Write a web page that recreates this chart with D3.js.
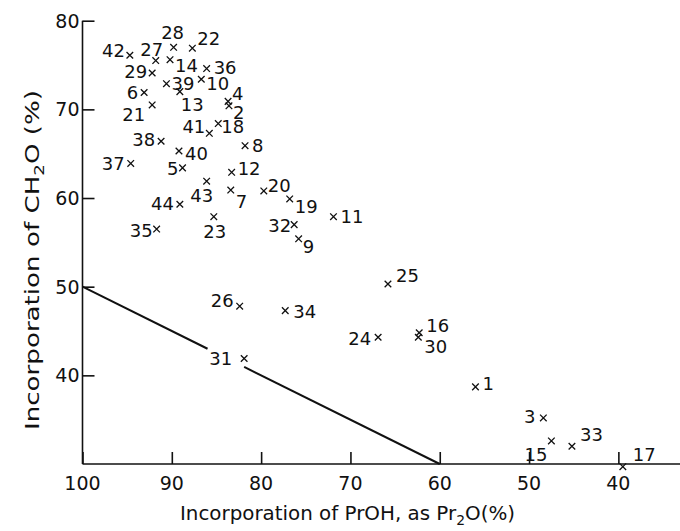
<!DOCTYPE html>
<html>
<head>
<meta charset="utf-8">
<script src="https://cdn.jsdelivr.net/npm/d3@7"></script>
<style>
  body { margin: 0; background: #fff; }
  text { font-family: "DejaVu Sans", sans-serif; fill: #111; }
</style>
</head>
<body>
<div class="canva"></div>
<script>
// experiment numbers and their incorporation values (%)
var runIds = [1, 2, 3, 4, 5, 6, 7, 8, 9, 10,
              11, 12, 13, 14, 15, 16, 17, 18, 19, 20,
              21, 22, 23, 24, 25, 26, 27, 28, 29, 30,
              31, 32, 33, 34, 35, 36, 37, 38, 39, 40,
              41, 42, 43, 44];
var prohValues = [56.0, 83.6, 48.4, 83.7, 88.8, 93.1, 83.4, 81.8, 75.8, 86.7,
                  71.9, 83.3, 89.1, 90.2, 47.5, 62.3, 39.5, 84.8, 76.8, 79.7,
                  92.2, 87.7, 85.3, 66.9, 65.8, 82.4, 91.8, 89.8, 92.2, 62.4,
                  81.9, 76.3, 45.2, 77.3, 91.7, 86.1, 94.6, 91.2, 90.6, 89.2,
                  85.8, 94.7, 86.1, 89.1];
var ch2oValues = [38.7, 70.4, 35.2, 70.9, 63.4, 71.9, 60.9, 65.9, 55.4, 73.4,
                  57.9, 62.9, 72.0, 75.6, 32.6, 44.8, 29.7, 68.4, 59.9, 60.8,
                  70.5, 76.9, 57.9, 44.3, 50.3, 47.8, 75.5, 77.0, 74.1, 44.3,
                  41.9, 57.0, 32.0, 47.3, 56.5, 74.6, 63.9, 66.4, 72.9, 65.3,
                  67.3, 76.1, 61.9, 59.3];
var xTicks = [100, 90, 80, 70, 60, 50, 40];
var yTicks = [40, 50, 60, 70, 80];
// reference line y = x/2, broken around label 31
var refLineA = [[100, 50], [86.0, 43.0]];
var refLineB = [[81.9, 40.95], [60, 30]];

// label placement: anchor, dx, dy (px from marker)
var labelPos = {
  1: ["start", 7, 3], 2: ["start", 4, 13], 3: ["end", -8, 5], 4: ["start", 4, -1],
  5: ["end", -4, 7], 6: ["end", -6, 6], 7: ["start", 5, 18], 8: ["start", 7, 6],
  9: ["start", 4, 14], 10: ["start", 5, 11], 11: ["start", 7, 6], 12: ["start", 6, 3],
  13: ["start", 1, 19], 14: ["start", 5, 12], 15: ["end", -4, 20], 16: ["start", 7, -1],
  17: ["start", 10, -6], 18: ["start", 3, 9], 19: ["start", 5, 14], 20: ["start", 4, 1],
  21: ["end", -7, 16], 22: ["start", 5, -3], 23: ["middle", 1, 21], 24: ["end", -7, 8],
  25: ["start", 8, -2], 26: ["end", -6, 1], 27: ["middle", -4, -5], 28: ["middle", -1, -8],
  29: ["end", -5, 5], 30: ["start", 6, 16], 31: ["end", -12, 7], 32: ["end", -3, 7],
  33: ["start", 8, -5], 34: ["start", 8, 7], 35: ["end", -4, 8], 36: ["start", 7, 5],
  37: ["end", -6, 7], 38: ["end", -6, 5], 39: ["start", 5, 6], 40: ["start", 6, 9],
  41: ["end", -4, 0], 42: ["end", -5, 2], 43: ["middle", -5, 21], 44: ["end", -6, 6]
};

var points = runIds.map(function(id, i) {
  return {id: id, x: prohValues[i], y: ch2oValues[i]};
});

const width = 680, height = 531;
const svg = d3.select(".canva").append("svg")
            .attr("width", width)
            .attr("height", height);

var x = d3.scaleLinear()
          .domain([100, 33.1])
          .range([82.5, 680]);
var y = d3.scaleLinear()
          .domain([30, 80])
          .range([464, 20.7]);

// axes (ticks point inward)
var xAxis = d3.axisTop(x)
              .tickValues(xTicks)
              .tickSize(12)
              .tickFormat("");
var yAxis = d3.axisRight(y)
              .tickValues(yTicks)
              .tickSize(12)
              .tickFormat("");

var gx = svg.append("g")
            .attr("transform", "translate(0," + y(30) + ")")
            .call(xAxis);
var gy = svg.append("g")
            .attr("transform", "translate(" + x(100) + ",0)")
            .call(yAxis);
gx.select(".domain").attr("d", "M" + x(100) + ",0H" + x(33.1));
gy.select(".domain").attr("d", "M0," + y(80) + "V" + y(30));
svg.selectAll(".domain, .tick line")
   .attr("stroke", "#111")
   .attr("stroke-width", 1.6);

// tick labels
svg.append("g").selectAll("text")
   .data(xTicks)
   .enter()
   .append("text")
   .attr("x", d => x(d))
   .attr("y", y(30) + 26)
   .attr("text-anchor", "middle")
   .style("font-size", "19px")
   .text(d => d);

svg.append("g").selectAll("text")
   .data(yTicks)
   .enter()
   .append("text")
   .attr("x", x(100) - 3)
   .attr("y", d => y(d))
   .attr("dy", "0.36em")
   .attr("text-anchor", "end")
   .style("font-size", "19px")
   .text(d => d);

// reference line
var valueLine = d3.line()
                  .x(d => x(d[0]))
                  .y(d => y(d[1]));
[refLineA, refLineB].forEach(function(seg) {
  svg.append("path")
     .datum(seg)
     .attr("fill", "none")
     .attr("stroke", "#111")
     .attr("stroke-width", 2)
     .attr("d", valueLine);
});

// x markers
var s = 3.3;
var marks = svg.append("g").selectAll("g")
               .data(points)
               .enter()
               .append("g")
               .attr("transform", d => "translate(" + x(d.x) + "," + y(d.y) + ")");
marks.append("path")
     .attr("d", "M" + (-s) + "," + (-s) + "L" + s + "," + s + "M" + (-s) + "," + s + "L" + s + "," + (-s))
     .attr("stroke", "#111")
     .attr("stroke-width", 1.3);
marks.append("text")
     .attr("x", d => labelPos[d.id][1])
     .attr("y", d => labelPos[d.id][2])
     .attr("text-anchor", d => labelPos[d.id][0])
     .style("font-size", "18px")
     .text(d => d.id);

// axis titles
var xt = svg.append("text")
            .attr("x", 180)
            .attr("y", 520)
            .attr("textLength", 335)
            .attr("lengthAdjust", "spacingAndGlyphs")
            .style("font-size", "20px");
xt.append("tspan").text("Incorporation of PrOH, as Pr");
xt.append("tspan").attr("dy", 5).style("font-size", "14px").text("2");
xt.append("tspan").attr("dy", -5).text("O(%)");

var yt = svg.append("text")
            .attr("transform", "translate(39,430) rotate(-90)")
            .attr("x", 0)
            .attr("y", 0)
            .attr("textLength", 340)
            .attr("lengthAdjust", "spacingAndGlyphs")
            .style("font-size", "20px");
yt.append("tspan").text("Incorporation of CH");
yt.append("tspan").attr("dy", 5).style("font-size", "14px").text("2");
yt.append("tspan").attr("dy", -5).text("O (%)");
</script>
</body>
</html>
